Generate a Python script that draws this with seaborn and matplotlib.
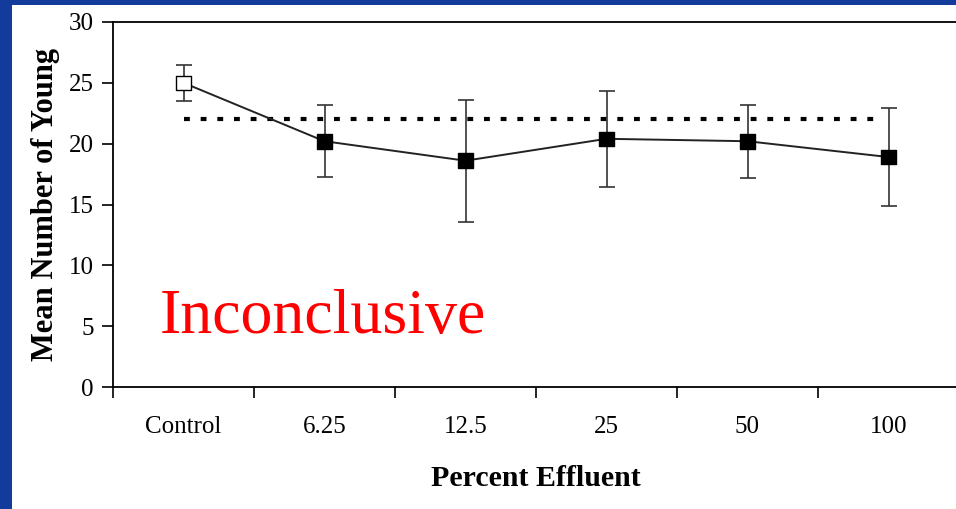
import numpy as np
import pandas as pd
import matplotlib
matplotlib.use("Agg")
import matplotlib.pyplot as plt
from matplotlib.patches import Rectangle
import seaborn as sns

# ---- data ----
categories = ["Control", "6.25", "12.5", "25", "50", "100"]
mean_young = [25.0, 20.2, 18.6, 20.4, 20.2, 18.9]
err_young = [1.5, 2.95, 5.0, 3.95, 3.0, 4.0]
reference_level = 22.0
y_ticks = [0, 5, 10, 15, 20, 25, 30]
annotation = "Inconclusive"

sns.set_theme(style="white")
plt.rcParams["font.family"] = ["Liberation Serif", "DejaVu Serif"]
plt.rcParams["text.color"] = "black"
plt.rcParams["axes.labelcolor"] = "black"
plt.rcParams["xtick.color"] = "black"
plt.rcParams["ytick.color"] = "black"

W, H = 956, 509
fig = plt.figure(figsize=(W / 100, H / 100), dpi=100)
fig.patch.set_facecolor("#123b9c")
fig.add_artist(Rectangle((12 / W, 0), 1, (H - 5) / H, transform=fig.transFigure,
                         facecolor="white", edgecolor="none", zorder=0))

left, right = 113 / W, 959 / W
bottom, top = (H - 387) / H, (H - 22) / H
ax = fig.add_axes([left, bottom, right - left, top - bottom])
ax.set_facecolor("white")

x = np.arange(len(categories))
df = pd.DataFrame({"x": x, "mean": mean_young, "err": err_young, "cat": categories,
                   "group": ["control"] + ["treat"] * (len(categories) - 1)})

# reference dotted line
ax.hlines(reference_level, x[0], x[-1] - 0.07, colors="black", linewidth=3,
          linestyles=(0, (1.4, 2.6)), zorder=2)

# connecting line
sns.lineplot(data=df, x="x", y="mean", color="#222222", linewidth=1.4, ax=ax,
             errorbar=None, zorder=3)
# error bars
ax.errorbar(df["x"], df["mean"], yerr=df["err"], fmt="none", ecolor="#333333",
            elinewidth=1.2, capsize=6, capthick=1.2, zorder=3)
# markers
sns.scatterplot(data=df, x="x", y="mean", hue="group",
                palette={"control": "white", "treat": "black"},
                marker="s", s=110, edgecolor="black", linewidth=1.0,
                legend=False, ax=ax, zorder=4)

ax.set_xlim(-0.5, len(categories) - 0.5)
ax.set_ylim(0, 30)
ax.set_yticks(y_ticks)
ax.set_yticklabels([str(t) for t in y_ticks])

ax.set_xticks(np.arange(len(categories) + 1) - 0.5)
ax.set_xticklabels([])
ax.set_xticks(x, minor=True)
ax.set_xticklabels(categories, minor=True)
ax.tick_params(axis="x", which="major", direction="out", length=8, width=1.2,
               color="black", bottom=True)
ax.tick_params(axis="x", which="minor", length=0, pad=21, labelsize=18,
               labelcolor="black")
ax.tick_params(axis="y", direction="out", length=8, width=1.2, color="black",
               left=True, labelsize=18, pad=6, labelcolor="black")

for s in ["left", "bottom", "top"]:
    ax.spines[s].set_visible(True)
    ax.spines[s].set_color("black")
    ax.spines[s].set_linewidth(1.3)
ax.spines["right"].set_visible(False)

ax.set_xlabel("Percent Effluent", fontsize=21.5, fontweight="bold", labelpad=19,
              color="black")
ax.set_ylabel("Mean Number of Young", fontsize=22, fontweight="bold", labelpad=10,
              color="black")
ax.yaxis.set_label_coords(-0.063, 0.5)

ax.text(0.055, 0.148, annotation, transform=ax.transAxes, color="red",
        fontsize=46, ha="left", va="baseline")

fig.savefig("out.png", dpi=100, facecolor=fig.get_facecolor())
